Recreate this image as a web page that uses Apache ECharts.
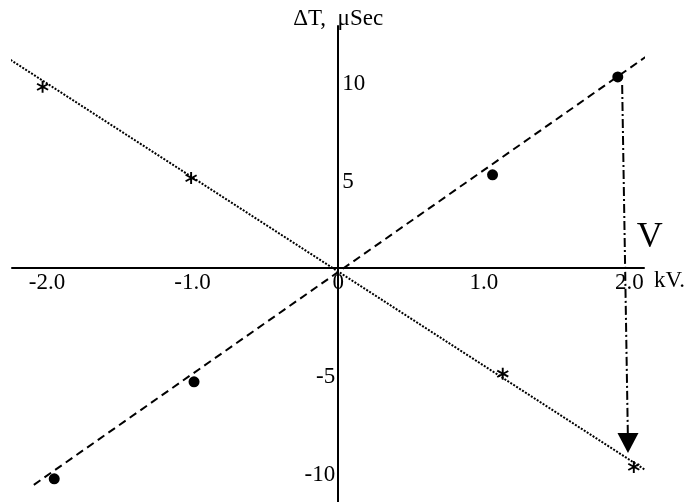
<!DOCTYPE html>
<html>
<head>
<meta charset="utf-8">
<script src="https://cdn.jsdelivr.net/npm/echarts@6/dist/echarts.min.js"></script>
<style>
  html, body { margin: 0; padding: 0; background: #fff; }
  #chart { width: 694px; height: 502px; }
</style>
</head>
<body>
<div id="chart"></div>
<script>
// tick labels
const xTicks = [-2, -1, 0, 1, 2];
const yTicksLeft = [-10, -5];   // negative labels sit left of the axis
const yTicksRight = [5, 10];    // positive labels sit right of the axis

// measured points (kV, μSec)
const dotX = [-1.95, -0.99, 1.06, 1.92];
const dotY = [-10.81, -5.84, 4.77, 9.79];
const starX = [-2.03, -1.01, 1.13, 2.03];
const starY = [9.28, 4.61, -5.43, -10.2];

// fitted lines, end points
const dashedFitX = [-2.09, 2.21];
const dashedFitY = [-11.12, 11.33];
const dottedFitX = [-2.27, 2.13];
const dottedFitY = [10.76, -10.46];

// the V arrow and its letter
const arrowX = [1.95, 1.99];
const arrowY = [9.38, -8.97];
const vMarkX = [2.14];
const vMarkY = [1.54];

const font = 'Liberation Serif';
const ink = '#000';

// plot box and axis ranges
const W = 694, H = 502;
const gridBox = { left: 12, right: 50, top: 26, bottom: 0 };
const xMin = -2.24, xMax = 2.10;
const yMin = -12, yMax = 12.4;
const plotW = W - gridBox.left - gridBox.right;
const plotH = H - gridBox.top - gridBox.bottom;

// axes cross at the origin: shift them in from the plot edges
const xAxisOffset = -plotH * (0 - yMin) / (yMax - yMin);   // from bottom edge
const yLeftOffset = -plotW * (0 - xMin) / (xMax - xMin);   // from left edge
const yRightOffset = -plotW * (xMax - 0) / (xMax - xMin);  // from right edge

// asterisk marker: three bars crossing at the centre
const starPath = 'path://M8.5,0L11.5,0L11.5,20L8.5,20Z' +
  'M0.59,5.96L2.09,3.36L19.41,13.36L17.91,15.96Z' +
  'M2.09,16.64L0.59,14.04L17.91,4.04L19.41,6.64Z';

const zip = (xs, ys) => xs.map((x, i) => [x, ys[i]]);

const chart = echarts.init(document.getElementById('chart'), null, { renderer: 'canvas' });

const labelFont = { color: ink, fontFamily: font, fontSize: 23 };

const yBase = {
  type: 'value',
  min: yMin,
  max: yMax,
  splitLine: { show: false },
  axisTick: { show: false },
  axisLine: { show: true, onZero: false, lineStyle: { color: ink, width: 2 } }
};

const option = {
  animation: false,
  backgroundColor: '#fff',
  grid: Object.assign({ containLabel: false, outerBoundsMode: 'none' }, gridBox),
  xAxis: {
    type: 'value',
    min: xMin,
    max: xMax,
    position: 'bottom',
    offset: xAxisOffset,
    splitLine: { show: false },
    axisTick: { show: false },
    axisLine: { onZero: false, lineStyle: { color: ink, width: 2 } },
    axisLabel: Object.assign({
      customValues: xTicks,
      margin: 4,
      formatter: v => (v === 0 ? '0' : v.toFixed(1))
    }, labelFont),
    name: 'kV.',
    nameLocation: 'end',
    nameGap: 10,
    nameTextStyle: Object.assign({ verticalAlign: 'top', align: 'left', padding: [2, 0, 0, 0] }, labelFont)
  },
  yAxis: [
    Object.assign({}, yBase, {
      position: 'left',
      offset: yLeftOffset,
      axisLabel: Object.assign({ customValues: yTicksLeft, margin: 3, verticalAlign: 'top' }, labelFont),
      name: 'ΔT,  μSec',
      nameLocation: 'end',
      nameGap: -4,
      nameTextStyle: labelFont
    }),
    Object.assign({}, yBase, {
      position: 'right',
      offset: yRightOffset,
      axisLine: { show: false },
      axisLabel: Object.assign({ customValues: yTicksRight, margin: 4, verticalAlign: 'top' }, labelFont)
    })
  ],
  series: [
    {
      name: 'fit +',
      type: 'line',
      data: zip(dashedFitX, dashedFitY),
      showSymbol: false,
      clip: false,
      lineStyle: { color: ink, width: 2, type: [8, 5] }
    },
    {
      name: 'fit -',
      type: 'line',
      data: zip(dottedFitX, dottedFitY),
      showSymbol: false,
      clip: false,
      lineStyle: { color: ink, width: 2, type: [2, 1.5] }
    },
    {
      name: 'dots',
      type: 'scatter',
      data: zip(dotX, dotY),
      symbol: 'circle',
      symbolSize: 11,
      clip: false,
      itemStyle: { color: ink, opacity: 1 }
    },
    {
      name: 'stars',
      type: 'scatter',
      data: zip(starX, starY),
      symbol: starPath,
      symbolSize: 12,
      clip: false,
      itemStyle: { color: ink, opacity: 1 }
    },
    {
      name: 'arrow',
      type: 'line',
      clip: false,
      data: [
        { value: [arrowX[0], arrowY[0]], symbol: 'none' },
        { value: [arrowX[1], arrowY[1]], symbol: 'triangle', symbolSize: [21, 20], symbolRotate: 180 }
      ],
      showSymbol: true,
      itemStyle: { color: ink, opacity: 1 },
      lineStyle: { color: ink, width: 2, type: [9, 3, 2, 3] }
    },
    {
      name: 'V',
      type: 'scatter',
      clip: false,
      data: zip(vMarkX, vMarkY),
      symbol: 'circle',
      symbolSize: 1,
      itemStyle: { color: 'rgba(0,0,0,0)', opacity: 1 },
      label: {
        show: true,
        position: 'inside',
        formatter: 'V',
        color: ink,
        opacity: 1,
        fontFamily: font,
        fontSize: 36
      }
    }
  ]
};

chart.setOption(option);
</script>
</body>
</html>
